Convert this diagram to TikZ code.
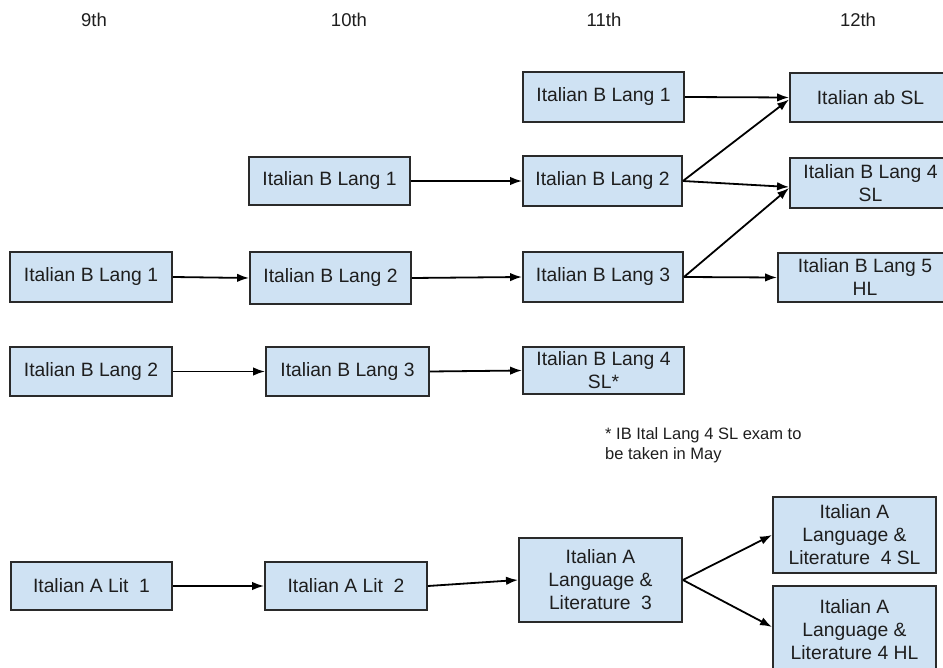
\documentclass[tikz,border=0pt]{standalone}
\usepackage{fontspec}
\setmainfont{Liberation Sans}
\usetikzlibrary{arrows.meta}
\definecolor{boxfill}{HTML}{CFE2F3}
\definecolor{boxline}{HTML}{2A2A2A}
\definecolor{txt}{HTML}{1E1E1E}
\tikzset{
  course/.style={rectangle, draw=boxline, line width=1.9pt, fill=boxfill,
    align=center, inner sep=0pt, text=txt,
    font=\fontsize{19.3}{23}\selectfont},
  hdr/.style={text=txt, font=\fontsize{18.5}{22}\selectfont, inner sep=0pt},
  note/.style={text=txt, align=left, anchor=north west, inner sep=0pt,
    font=\fontsize{16.5}{20}\selectfont},
  link/.style={draw=black, line width=1.8pt, -{Latex[length=12pt,width=8.5pt]}}
}
\begin{document}
\begin{tikzpicture}[x=1pt,y=-1pt]
\clip (0,0) rectangle (943,668);
\fill[white] (0,0) rectangle (943,668);
% headers
\node[hdr] (h9)  at (94,20)  {9th};
\node[hdr] (h10) at (349,20) {10th};
\node[hdr] (h11) at (604,20) {11th};
\node[hdr] (h12) at (858,20) {12th};
% 11th column
\node[course, minimum width=161pt, minimum height=50pt] (e1) at (603.5,97) {Italian B Lang 1};
\node[course, minimum width=159pt, minimum height=50pt] (e2) at (602.5,181) {Italian B Lang 2};
\node[course, minimum width=160pt, minimum height=50pt] (e3) at (603,277) {Italian B Lang 3};
\node[course, minimum width=161pt, minimum height=47pt] (e4) at (603.5,370.5) {Italian B Lang 4\\SL*};
\node[course, minimum width=163pt, minimum height=84pt] (ll3) at (600.5,580) {Italian A\\Language \&\\Literature\ \ 3};
% 12th column
\node[course, minimum width=161pt, minimum height=49pt] (ab) at (870.5,97.5) {Italian ab SL};
\node[course, minimum width=161pt, minimum height=50pt] (b4) at (870.5,183) {Italian B Lang 4\\SL};
\node[course, minimum width=174pt, minimum height=49pt] (b5) at (865,277.5) {Italian B Lang 5\\HL};
\node[course, minimum width=163pt, minimum height=76pt] (sl) at (854.5,535) {Italian A\\Language \&\\Literature\ \ 4 SL};
\node[course, minimum width=163pt, minimum height=88pt] (hl) at (854.5,630) {Italian A\\Language \&\\Literature 4 HL};
% 10th column
\node[course, minimum width=161pt, minimum height=48pt] (t1) at (329.5,181) {Italian B Lang 1};
\node[course, minimum width=161pt, minimum height=52pt] (t2) at (330.5,278) {Italian B Lang 2};
\node[course, minimum width=163pt, minimum height=49pt] (t3) at (347.5,371.5) {Italian B Lang 3};
\node[course, minimum width=162pt, minimum height=48pt] (a2) at (346,586) {Italian A Lit\ \ 2};
% 9th column
\node[course, minimum width=162pt, minimum height=50pt] (n1) at (91,277) {Italian B Lang 1};
\node[course, minimum width=162pt, minimum height=49pt] (n2) at (91,371.5) {Italian B Lang 2};
\node[course, minimum width=161pt, minimum height=48pt] (a1) at (91.5,586) {Italian A Lit\ \ 1};
% footnote
\node[note] (fn) at (605,427) {* IB Ital Lang 4 SL exam to\\be taken in May};
% connectors
\draw[link] (e1.east) -- (ab.west);
\draw[link] (e2.east) -- ([yshift=-2pt]ab.west);
\draw[link] (e2.east) -- ([yshift=-4pt]b4.west);
\draw[link] (e3.east) -- ([yshift=-5pt]b4.west);
\draw[link] (e3.east) -- (b5.west);
\draw[link] (t1.east) -- (e2.west);
\draw[link] (n1.east) -- (t2.west);
\draw[link] (t2.east) -- (e3.west);
\draw[link] (n2.east) -- (t3.west);
\draw[link] (t3.east) -- (e4.west);
\draw[link] (a1.east) -- (a2.west);
\draw[link] (a2.east) -- (ll3.west);
\draw[link] (ll3.east) -- (sl.west);
\draw[link] (ll3.east) -- ([yshift=3pt]hl.west);
\end{tikzpicture}
\end{document}
